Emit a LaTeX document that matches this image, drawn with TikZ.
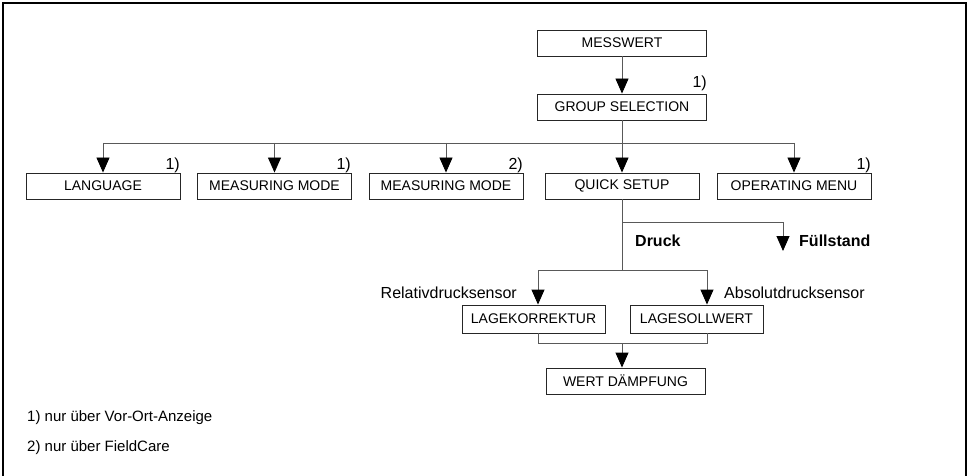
\documentclass[tikz,border=0pt]{standalone}
\usepackage{fontspec}
\setmainfont{Liberation Sans}
\usetikzlibrary{arrows.meta}
\begin{document}
\begin{tikzpicture}[x=1pt,y=-1pt,
  box/.style={draw=black!85,line width=0.9pt,minimum height=26pt,inner sep=0pt,font=\fontsize{14}{16}\selectfont},
  conn/.style={draw=black!65,line width=0.9pt},
  arr/.style={conn,-{Triangle[width=13pt,length=15pt,black]}},
  lbl/.style={inner sep=0pt,font=\fontsize{15}{17}\selectfont},
  slbl/.style={inner sep=0pt,font=\fontsize{16}{18}\selectfont},
  blbl/.style={inner sep=0pt,font=\fontsize{16}{18}\selectfont\bfseries}]
\useasboundingbox (0,0) rectangle (970,476);
\draw[line width=1.6pt] (3,476) -- (3,3) -- (966,3) -- (966,476);

\node[box,minimum width=169pt] (mess) at (622,43) {MESSWERT};
\node[box,minimum width=169pt] (group) at (622,107) {GROUP SELECTION};
\node[box,minimum width=154pt] (lang) at (103,186) {LANGUAGE};
\node[box,minimum width=154pt] (mm1) at (274.5,186) {MEASURING MODE};
\node[box,minimum width=154pt] (mm2) at (446,186) {MEASURING MODE};
\node[box,minimum width=154pt] (quick) at (622,186) {QUICK SETUP};
\node[box,minimum width=154pt] (opm) at (794,186) {OPERATING MENU};
\node[box,minimum width=143pt,minimum height=28pt] (lagek) at (533.5,319) {LAGEKORREKTUR};
\node[box,minimum width=133pt,minimum height=28pt] (lages) at (696.5,319) {LAGESOLLWERT};
\node[box,minimum width=159pt] (wert) at (625.5,381) {WERT DÄMPFUNG};

\coordinate (bus) at (622,143);
\coordinate (fork) at (622,222);
\coordinate (fuell) at (783,251);
\coordinate (j2) at (622,270);
\coordinate (jl) at (538,270);
\coordinate (jr) at (707,270);
\coordinate (bl) at (538,343);
\coordinate (br) at (707,343);
\coordinate (bm) at (622,343);

\draw[arr] (mess.south) -- (group.north);
\draw[arr] (group.south) -- (quick.north);
\draw[conn] (lang.north |- bus) -- (opm.north |- bus);
\draw[arr] (lang.north |- bus) -- (lang.north);
\draw[arr] (mm1.north |- bus) -- (mm1.north);
\draw[arr] (mm2.north |- bus) -- (mm2.north);
\draw[arr] (opm.north |- bus) -- (opm.north);

\draw[conn] (quick.south) -- (j2);
\draw[arr] (fork) -| (fuell);
\draw[conn] (jl) -- (jr);
\draw[arr] (jl) -- (lagek.north -| jl);
\draw[arr] (jr) -- (lages.north -| jr);
\draw[conn] (lagek.south -| bl) -- (bl) -- (br) -- (lages.south -| br);
\draw[arr] (bm) -- (wert.north -| bm);

\node[slbl,anchor=base east] (n0) at (707,88) {1)};
\node[slbl,anchor=base east] (n1) at (180,170) {1)};
\node[slbl,anchor=base east] (n2) at (351,170) {1)};
\node[slbl,anchor=base east] (n3) at (523,170) {2)};
\node[slbl,anchor=base east] (n4) at (871,170) {1)};

\node[blbl,anchor=west] (druck) at (635,241) {Druck};
\node[blbl,anchor=west] (fst) at (799,241) {Füllstand};
\node[slbl,anchor=east] (rel) at (517,293) {Relativdrucksensor};
\node[slbl,anchor=west] (abs) at (724,293) {Absolutdrucksensor};

\node[lbl,anchor=west] (f1) at (27,418) {1) nur über Vor-Ort-Anzeige};
\node[lbl,anchor=west] (f2) at (27,448) {2) nur über FieldCare};
\end{tikzpicture}
\end{document}
